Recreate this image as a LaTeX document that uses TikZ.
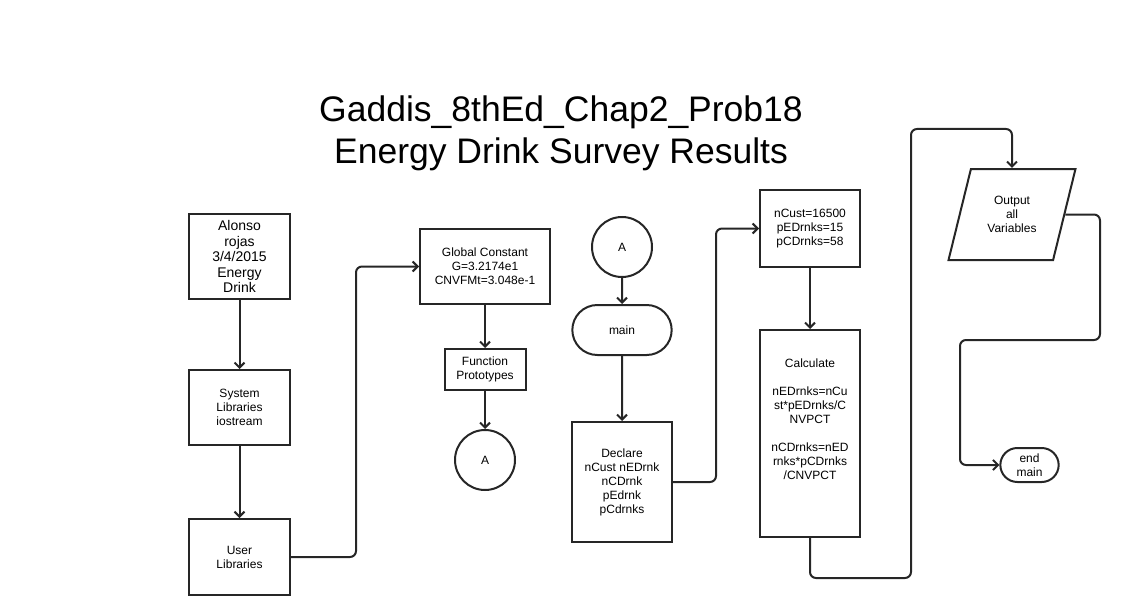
\documentclass[tikz,border=0pt]{standalone}
\usepackage{fontspec}
\setmainfont{Liberation Sans}
\usepackage{tikz}
\usetikzlibrary{arrows.meta,shapes.geometric,shapes.misc}
\definecolor{lineGray}{rgb}{0.15, 0.15, 0.15}
\tikzset{
	>={Straight Barb[length=5pt,width=10pt]},
	procbox/.style={
		rectangle,
		draw=lineGray, line width=2pt,
		align=center,
		inner sep=2pt,
		font=\fontsize{12}{14}\selectfont},
	connector/.style={
		circle,
		draw=lineGray, line width=2pt,
		minimum size=60pt,
		font=\fontsize{12}{14}\selectfont},
	terminal/.style={
		rounded rectangle,
		draw=lineGray, line width=2pt,
		align=center,
		font=\fontsize{12}{14}\selectfont},
	iobox/.style={
		trapezium,
		trapezium left angle=70.6, trapezium right angle=109.4,
		trapezium stretches=true,
		draw=lineGray, line width=2pt,
		align=center,
		font=\fontsize{12}{14}\selectfont},
	line/.style={draw=lineGray, line width=2pt, ->},
	elbow/.style={line, rounded corners=6pt},
}

\begin{document}
\begin{tikzpicture}
[x=1pt, y=-1pt]
\useasboundingbox (0,0) rectangle (1124,615);

\node[align=center, font=\fontsize{35.5}{42}\selectfont] (title) at (561,133)
	{Gaddis\_8thEd\_Chap2\_Prob18\\Energy Drink Survey Results};

\node[procbox, minimum width=101pt, minimum height=85pt,
	font=\fontsize{14}{15.5}\selectfont] (intro) at (239.5,256.5)
	{Alonso\\rojas\\3/4/2015\\Energy\\Drink};
\node[procbox, minimum width=101pt, minimum height=75pt] (syslib) at (239.5,407.5)
	{System\\Libraries\\iostream};
\node[procbox, minimum width=101pt, minimum height=76pt] (userlib) at (239.5,557)
	{User\\Libraries};

\node[procbox, minimum width=130pt, minimum height=75pt] (globconst) at (485,266.5)
	{Global Constant\\G=3.2174e1\\CNVFMt=3.048e-1};
\node[procbox, minimum width=81pt, minimum height=41pt] (protos) at (485,369.5)
	{Function\\Prototypes};
\node[connector] (offA) at (485,460) {A};

\node[connector] (onA) at (622,247) {A};
\node[terminal, minimum width=106pt, minimum height=50pt] (mainstart) at (622,330) {main};
\node[procbox, minimum width=100pt, minimum height=120pt] (declare) at (622,482)
	{Declare\\nCust nEDrnk\\nCDrnk\\pEdrnk\\pCdrnks};

\node[procbox, minimum width=100pt, minimum height=77pt] (init) at (810,228.5)
	{nCust=16500\\pEDrnks=15\\pCDrnks=58};
\node[procbox, minimum width=100pt, minimum height=207pt] (calc) at (810,433.5)
	{Calculate\\[14pt]nEDrnks=nCu\\st*pEDrnks/C\\NVPCT\\[14pt]nCDrnks=nED\\rnks*pCDrnks\\/CNVPCT\\[14pt]};

\node[iobox, minimum width=127pt, minimum height=91pt] (output) at (1012,214.5)
	{Output\\all\\Variables};
\node[terminal, minimum width=65pt, minimum height=34pt] (mainend) at (1029.5,465)
	{end\\main};

\coordinate (topbend) at (911,129);
\coordinate (rightbend) at (1100,340);
\coordinate (leftbend) at (960,340);

\draw[line] (intro) -- (syslib);
\draw[line] (syslib) -- (userlib);
\draw[elbow] (userlib.east) -- ++(65,0) |- (globconst.west);
\draw[line] (globconst) -- (protos);
\draw[line] (protos) -- (offA);

\draw[line] (onA) -- (mainstart);
\draw[line] (mainstart) -- (declare);
\draw[elbow] (declare.east) -- ++(43,0) |- (init.west);
\draw[line] (init) -- (calc);
\draw[elbow] (calc.south) -- ++(0,40) -| (topbend) -| (output.north);
\draw[elbow] (output.east) -| (rightbend) -- (leftbend) |- (mainend.west);
\end{tikzpicture}
\end{document}
